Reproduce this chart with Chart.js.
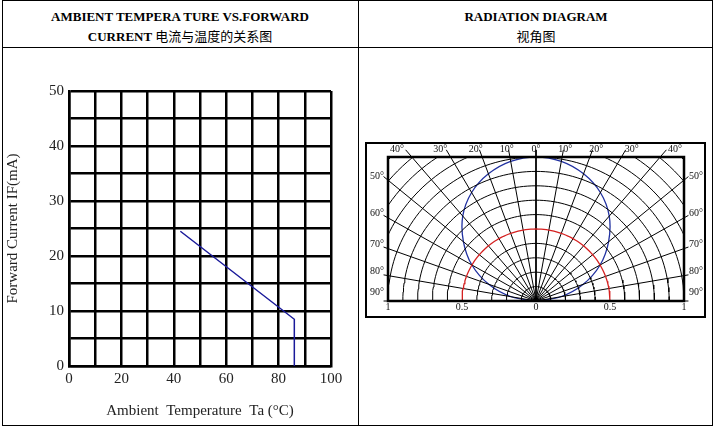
<!DOCTYPE html>
<html lang="en">
<head>
<meta charset="UTF-8">
<title>LED curves</title>
<script src="https://cdn.jsdelivr.net/npm/chart.js@4.4.0/dist/chart.umd.min.js"></script>
<style>
  body { margin: 0; background: #fff; font-family: 'Liberation Serif', 'Noto Sans CJK SC', serif; }
  .sheet { position: relative; width: 715px; height: 430px; }
  .frame { position: absolute; left: 2px; top: 0; width: 709px; height: 424px; border: 1px solid #000; }
  .hline { position: absolute; left: 2px; top: 47px; width: 711px; height: 1px; background: #000; }
  .vline { position: absolute; left: 358px; top: 0; width: 1px; height: 426px; background: #000; }
  .head { position: absolute; top: 7px; text-align: center; font-weight: bold; font-size: 13px; line-height: 19px; }
  .box { position: absolute; }
  #radBox { border: 2px solid #000; box-sizing: border-box; }
</style>
</head>
<body>
<div class="sheet">
  <div class="frame"></div>
  <div class="hline"></div>
  <div class="vline"></div>
  <div class="head" style="left:2px;width:356px">AMBIENT TEMPERA TURE VS.FORWARD<br>CURRENT <span style="font-family:'Noto Sans CJK SC';font-weight:normal">电流与温度的关系图</span></div>
  <div class="head" style="left:359px;width:354px">RADIATION DIAGRAM<br><span style="font-family:'Noto Sans CJK SC';font-weight:normal">视角图</span></div>
  <div class="box" style="left:0;top:48px;width:356px;height:376px"><canvas id="derate"></canvas></div>
  <div class="box" id="radBox" style="left:365px;top:142px;width:341px;height:176px"><canvas id="radiation"></canvas></div>
</div>
<script>
// derating curve
const tempPoints = [42.5, 86, 86];
const currentPoints = [24.5, 8.5, 0];
const xTicks = [0, 20, 40, 60, 80, 100];
const yTicks = [0, 10, 20, 30, 40, 50];

// radiation diagram
const angleDeg = [-90, -80, -70, -60, -50, -40, -30, -20, -10, 0, 10, 20, 30, 40, 50, 60, 70, 80, 90];
const intensity = [0, 0.17, 0.34, 0.5, 0.64, 0.77, 0.87, 0.94, 0.985, 1, 0.985, 0.94, 0.87, 0.77, 0.64, 0.5, 0.34, 0.17, 0];
const gridRadii = [0.1, 0.2, 0.3, 0.4, 0.5, 0.6, 0.7, 0.8, 0.9, 1.0, 1.1, 1.2, 1.3, 1.4];
const halfRadius = 0.5;
const radLabels = [-1, -0.5, 0, 0.5, 1];
const topAngleLabels = [-40, -30, -20, -10, 0, 10, 20, 30, 40];
const sideAngleLabels = [50, 60, 70, 80, 90];

const serif = "'Liberation Serif', serif";

new Chart(document.getElementById('derate'), {
  type: 'scatter',
  data: {
    datasets: [{
      data: tempPoints.map((t, i) => ({ x: t, y: currentPoints[i] })),
      showLine: true, borderColor: '#1a1a9a', borderWidth: 1.5, pointRadius: 0
    }]
  },
  options: {
    responsive: true, maintainAspectRatio: false, animation: false,
    layout: { padding: { top: 43, right: 25, left: 0, bottom: 0 } },
    plugins: { legend: { display: false }, tooltip: { enabled: false } },
    scales: {
      x: {
        min: 0, max: 100,
        afterFit: s => { s.height = 58; },
        afterBuildTicks: s => { s.ticks = [0,10,20,30,40,50,60,70,80,90,100].map(v => ({ value: v })); },
        grid: { color: '#000', lineWidth: 2.5, drawTicks: false },
        border: { color: '#000', width: 2.5 },
        ticks: { color: '#222', font: { family: serif, size: 15 }, padding: 4, maxRotation: 0, minRotation: 0, autoSkip: false,
          callback: v => xTicks.includes(v) ? v : '' },
        title: { display: true, text: 'Ambient  Temperature  Ta (°C)', color: '#222', font: { family: serif, size: 15 }, padding: { top: 4 } }
      },
      y: {
        min: 0, max: 50,
        afterFit: s => { s.width = 69; },
        afterBuildTicks: s => { s.ticks = [0,5,10,15,20,25,30,35,40,45,50].map(v => ({ value: v })); },
        grid: { color: '#000', lineWidth: 2.5, drawTicks: false },
        border: { color: '#000', width: 2.5 },
        ticks: { color: '#222', font: { family: serif, size: 15 }, padding: 5, autoSkip: false,
          callback: v => yTicks.includes(v) ? v : '' },
        title: { display: true, text: 'Forward Current IF(mA)', color: '#222', font: { family: serif, size: 15 }, padding: { bottom: 2 } }
      }
    }
  }
});

// build radiation datasets from the arrays
const rad = a => a * Math.PI / 180;
const toXY = (r, a) => ({ x: r * Math.sin(rad(a)), y: r * Math.cos(rad(a)) });
const fineAngles = [];
for (let a = -90; a <= 90; a += 2) fineAngles.push(a);

const radSets = [];
gridRadii.forEach(r => radSets.push({
  data: fineAngles.map(a => toXY(r, a)),
  borderColor: r === halfRadius ? '#d42020' : '#000', borderWidth: r === halfRadius ? 1.3 : 1, clip: 0
}));
angleDeg.forEach(a => {
  // spokes run a little past the inner frame toward the angle labels
  const s = Math.sin(rad(Math.abs(a))), c = Math.cos(rad(a));
  const len = Math.min(s > 0 ? 1.03 / s : 9, c > 0 ? 1.05 / c : 9);
  radSets.push({ data: [{ x: 0, y: 0 }, toXY(len, a)], borderColor: '#000', borderWidth: a === 0 ? 1.8 : 1, clip: 8 });
});
radSets.push({
  data: angleDeg.map((a, i) => toXY(intensity[i], a)),
  borderColor: '#2030a0', borderWidth: 1.3, tension: 0.4, clip: 0
});

const radText = {
  id: 'radText',
  afterDatasetsDraw(chart) {
    const { ctx, chartArea: ca, scales: { x, y } } = chart;
    ctx.save();
    ctx.strokeStyle = '#000'; ctx.lineWidth = 2.5;
    ctx.strokeRect(ca.left, ca.top, ca.right - ca.left, ca.bottom - ca.top);
    ctx.fillStyle = '#111'; ctx.font = "10px " + serif; ctx.textAlign = 'center'; ctx.textBaseline = 'middle';
    radLabels.forEach(v => ctx.fillText(String(Math.abs(v)), x.getPixelForValue(v), ca.bottom + 6));
    topAngleLabels.forEach(a => {
      const xv = Math.tan(rad(a)) * 1.12;
      ctx.fillText(Math.abs(a) + '°', x.getPixelForValue(xv), ca.top - 8);
    });
    sideAngleLabels.forEach(a => {
      const yv = Math.max(0.03, 1 / Math.tan(rad(a)));
      const py = y.getPixelForValue(yv) - 4;
      ctx.fillText(a + '°', ca.left - 11, py);
      ctx.fillText(a + '°', ca.right + 12, py);
    });
    ctx.restore();
  }
};

new Chart(document.getElementById('radiation'), {
  type: 'scatter',
  data: { datasets: radSets.map(d => Object.assign({ showLine: true, pointRadius: 0 }, d)) },
  options: {
    responsive: true, maintainAspectRatio: false, animation: false,
    layout: { padding: { top: 13, right: 20, left: 21, bottom: 15 } },
    plugins: { legend: { display: false }, tooltip: { enabled: false } },
    scales: {
      x: { display: false, min: -1, max: 1 },
      y: { display: false, min: 0, max: 1 }
    }
  },
  plugins: [radText]
});
</script>
</body>
</html>
